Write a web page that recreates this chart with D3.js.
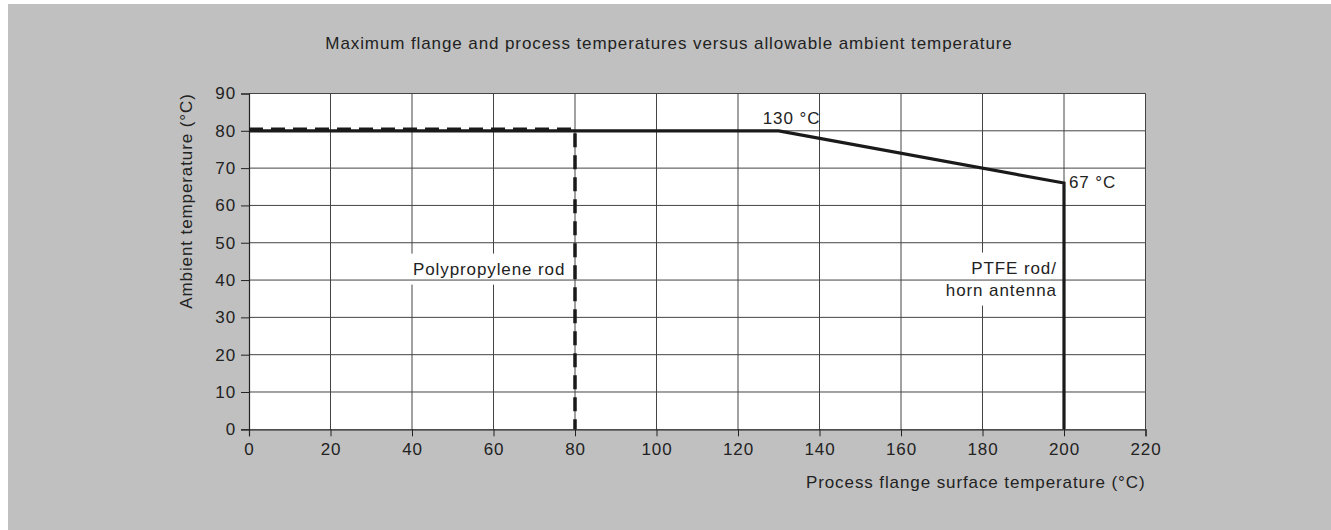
<!DOCTYPE html>
<html>
<head>
<meta charset="utf-8">
<script src="https://cdn.jsdelivr.net/npm/d3@7"></script>
<style>
  body { margin: 0; background: #fff; }
  svg text { font-family: "Liberation Sans", Arial, sans-serif; fill: #222; letter-spacing: 0.9px; }
</style>
</head>
<body>
<svg id="chart"></svg>
<script>
// data
const xTicks = [0, 20, 40, 60, 80, 100, 120, 140, 160, 180, 200, 220]
const yTicks = [0, 10, 20, 30, 40, 50, 60, 70, 80, 90]

// PTFE rod / horn antenna limit (solid)
const ptfeX = [0, 130, 200, 200]
const ptfeY = [80, 80, 66, 0]

// Polypropylene rod limit (dashed)
const ppX = [0, 80, 80]
const ppY = [80.4, 80.4, 0]

const title = 'Maximum flange and process temperatures versus allowable ambient temperature'
const xTitle = 'Process flange surface temperature (°C)'
const yTitle = 'Ambient temperature (°C)'

const width = 1331, height = 530
const svg = d3.select('#chart').attr('width', width).attr('height', height)

// grey panel
svg.append('rect')
  .attr('x', 8).attr('y', 4)
  .attr('width', width - 8).attr('height', height - 4)
  .attr('fill', '#c0c0c0')

const x = d3.scaleLinear().domain([0, 220]).range([249, 1145.5])
const y = d3.scaleLinear().domain([0, 90]).range([429.3, 93.5])

// plot area
svg.append('rect')
  .attr('x', x(0)).attr('y', y(90))
  .attr('width', x(220) - x(0)).attr('height', y(0) - y(90))
  .attr('fill', '#fff')

// vertical grid
svg.append('g').selectAll('line').data(xTicks.slice(1)).enter().append('line')
  .attr('x1', d => x(d)).attr('x2', d => x(d))
  .attr('y1', y(0)).attr('y2', y(90))
  .attr('stroke', '#444').attr('stroke-width', 1)

// label boxes hide the vertical grid only
const labels = svg.append('g')
function boxedText(lines, px, py, anchor) {
  const g = labels.append('g')
  const bg = g.append('rect').attr('fill', '#fff')
  const t = g.append('text')
    .attr('x', px).attr('y', py)
    .attr('text-anchor', anchor)
    .style('font-size', '17px')
  lines.forEach((s, i) => {
    t.append('tspan').attr('x', px).attr('dy', i ? 22 : 0).text(s)
  })
  const b = t.node().getBBox()
  bg.attr('x', b.x - 6).attr('y', b.y - 6)
    .attr('width', b.width + 12).attr('height', b.height + 12)
  return t
}
boxedText(['Polypropylene rod'], x(40) + 1, y(42) + 2, 'start')
boxedText(['PTFE rod/', 'horn antenna'], x(198) + 1, y(42) + 1, 'end')

// horizontal grid
svg.append('g').selectAll('line').data(yTicks.slice(1)).enter().append('line')
  .attr('x1', x(0)).attr('x2', x(220))
  .attr('y1', d => y(d)).attr('y2', d => y(d))
  .attr('stroke', '#444').attr('stroke-width', 1)

// right border
svg.append('line')
  .attr('x1', x(220)).attr('x2', x(220)).attr('y1', y(0)).attr('y2', y(90))
  .attr('stroke', '#444')

// keep label text above grid
labels.selectAll('text').each(function() { svg.node().appendChild(this) })

// axes
const xAxis = svg.append('g')
  .attr('transform', `translate(0,${y(0)})`)
  .call(d3.axisBottom(x).tickValues(xTicks).tickSize(7).tickPadding(7))
const yAxis = svg.append('g')
  .attr('transform', `translate(${x(0)},0)`)
  .call(d3.axisLeft(y).tickValues(yTicks).tickSize(8).tickPadding(5))
;[xAxis, yAxis].forEach(a => {
  a.select('.domain').attr('stroke', '#222').attr('stroke-width', 1.2)
  a.selectAll('.tick line').attr('stroke', '#222')
  a.selectAll('.tick text')
    .style('font-size', '17px')
    .style('font-family', '"Liberation Sans", Arial, sans-serif')
    .attr('fill', '#222')
})

// limit lines
const line = d3.line().x(d => x(d[0])).y(d => y(d[1]))
svg.append('path')
  .datum(ppX.map((v, i) => [v, ppY[i]]))
  .attr('d', line)
  .attr('fill', 'none').attr('stroke', '#1a1a1a')
  .attr('stroke-width', 3.5).attr('stroke-dasharray', '14,8')
svg.append('path')
  .datum(ptfeX.map((v, i) => [v, ptfeY[i]]))
  .attr('d', line)
  .attr('fill', 'none').attr('stroke', '#1a1a1a')
  .attr('stroke-width', 3.2).attr('stroke-linejoin', 'miter')

// point labels
svg.append('text')
  .attr('x', x(130) - 16).attr('y', y(80) - 7)
  .style('font-size', '17px').text('130 °C')
svg.append('text')
  .attr('x', x(200) + 5).attr('y', y(66) + 5)
  .style('font-size', '17px').text('67 °C')

// titles
svg.append('text')
  .attr('x', 669).attr('y', 49).attr('text-anchor', 'middle')
  .style('font-size', '17px').text(title)
svg.append('text')
  .attr('x', x(220)).attr('y', 488).attr('text-anchor', 'end')
  .style('font-size', '17px').text(xTitle)
svg.append('text')
  .attr('transform', 'translate(192,201) rotate(-90)')
  .attr('text-anchor', 'middle')
  .style('font-size', '17px').text(yTitle)
</script>
</body>
</html>
